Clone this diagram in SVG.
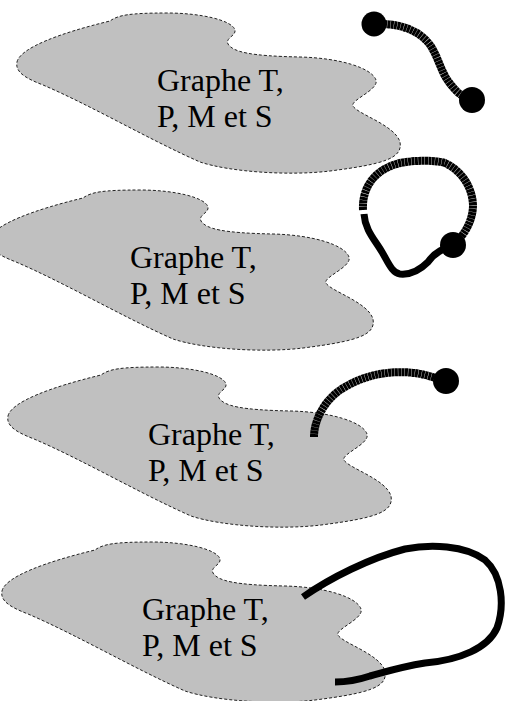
<svg xmlns="http://www.w3.org/2000/svg" width="506" height="701" viewBox="0 0 506 701">
<style>
.blob{fill:#c0c0c0;stroke:#222;stroke-width:1;stroke-dasharray:3 2}
.lbl{font-family:"Liberation Serif","Times New Roman",serif;font-size:32px;fill:#000}
.hatch{fill:none;stroke:#000;stroke-width:8;stroke-dasharray:3 0.35}
.solid{fill:none;stroke:#000;stroke-width:7}
.dot{fill:#000}
</style>
<defs>
<path id="blobshape" d="M17,62 C20,48 60,33 110,21 C118,15 130,13 167,13 C200,13 232,20 235,30 C236,36 225,38 228,44 C233,52 250,56 300,57 C340,58 372,68 376,80 C379,90 350,100 353,106 C357,114 395,125 400,142 C403,158 385,164 330,171 C290,176 230,172 200,162 C150,140 90,105 43,85 C25,78 15,72 17,62 Z"/>
</defs>
<g id="node1">
<use href="#blobshape" class="blob"/>
<text class="lbl" x="157" y="91">Graphe T,</text>
<text class="lbl" x="157" y="127">P, M et S</text>
</g>
<g id="node2" transform="translate(-27,177)">
<use href="#blobshape" class="blob"/>
<text class="lbl" x="157" y="91">Graphe T,</text>
<text class="lbl" x="157" y="127">P, M et S</text>
</g>
<g id="node3" transform="translate(-9,354)">
<use href="#blobshape" class="blob"/>
<text class="lbl" x="157" y="91">Graphe T,</text>
<text class="lbl" x="157" y="127">P, M et S</text>
</g>
<g id="node4" transform="translate(-15,529)">
<use href="#blobshape" class="blob"/>
<text class="lbl" x="157" y="91">Graphe T,</text>
<text class="lbl" x="157" y="127">P, M et S</text>
</g>
<g id="connectors">
<path class="hatch" d="M374,24 C395,23 420,28 432,48 C440,62 442,75 452,86 C458,94 465,98 472,100"/>
<circle class="dot" cx="374" cy="24" r="12.5"/>
<circle class="dot" cx="472" cy="100" r="13"/>
<path class="hatch" d="M363,210 C362,190 372,170 400,163 C415,160 435,160 445,163 C460,170 472,185 473,205 C473,220 465,235 453,245"/>
<path class="solid" d="M453,245 C445,248 435,252 428,262 C420,270 410,275 400,274 C392,273 388,262 382,252 C375,240 365,230 364,214"/>
<circle class="dot" cx="453" cy="245" r="13"/>
<path class="hatch" d="M314,437 C314,420 325,398 345,387 C365,375 390,370 415,373 C428,375 438,379 446,381"/>
<circle class="dot" cx="446" cy="381" r="13"/>
<path class="solid" d="M303,597 C330,578 370,558 405,549 C430,544 465,545 485,560 C502,575 505,605 497,628 C488,648 460,660 425,663 C400,667 385,672 370,676 C358,680 345,682 335,682"/>
</g>
</svg>
